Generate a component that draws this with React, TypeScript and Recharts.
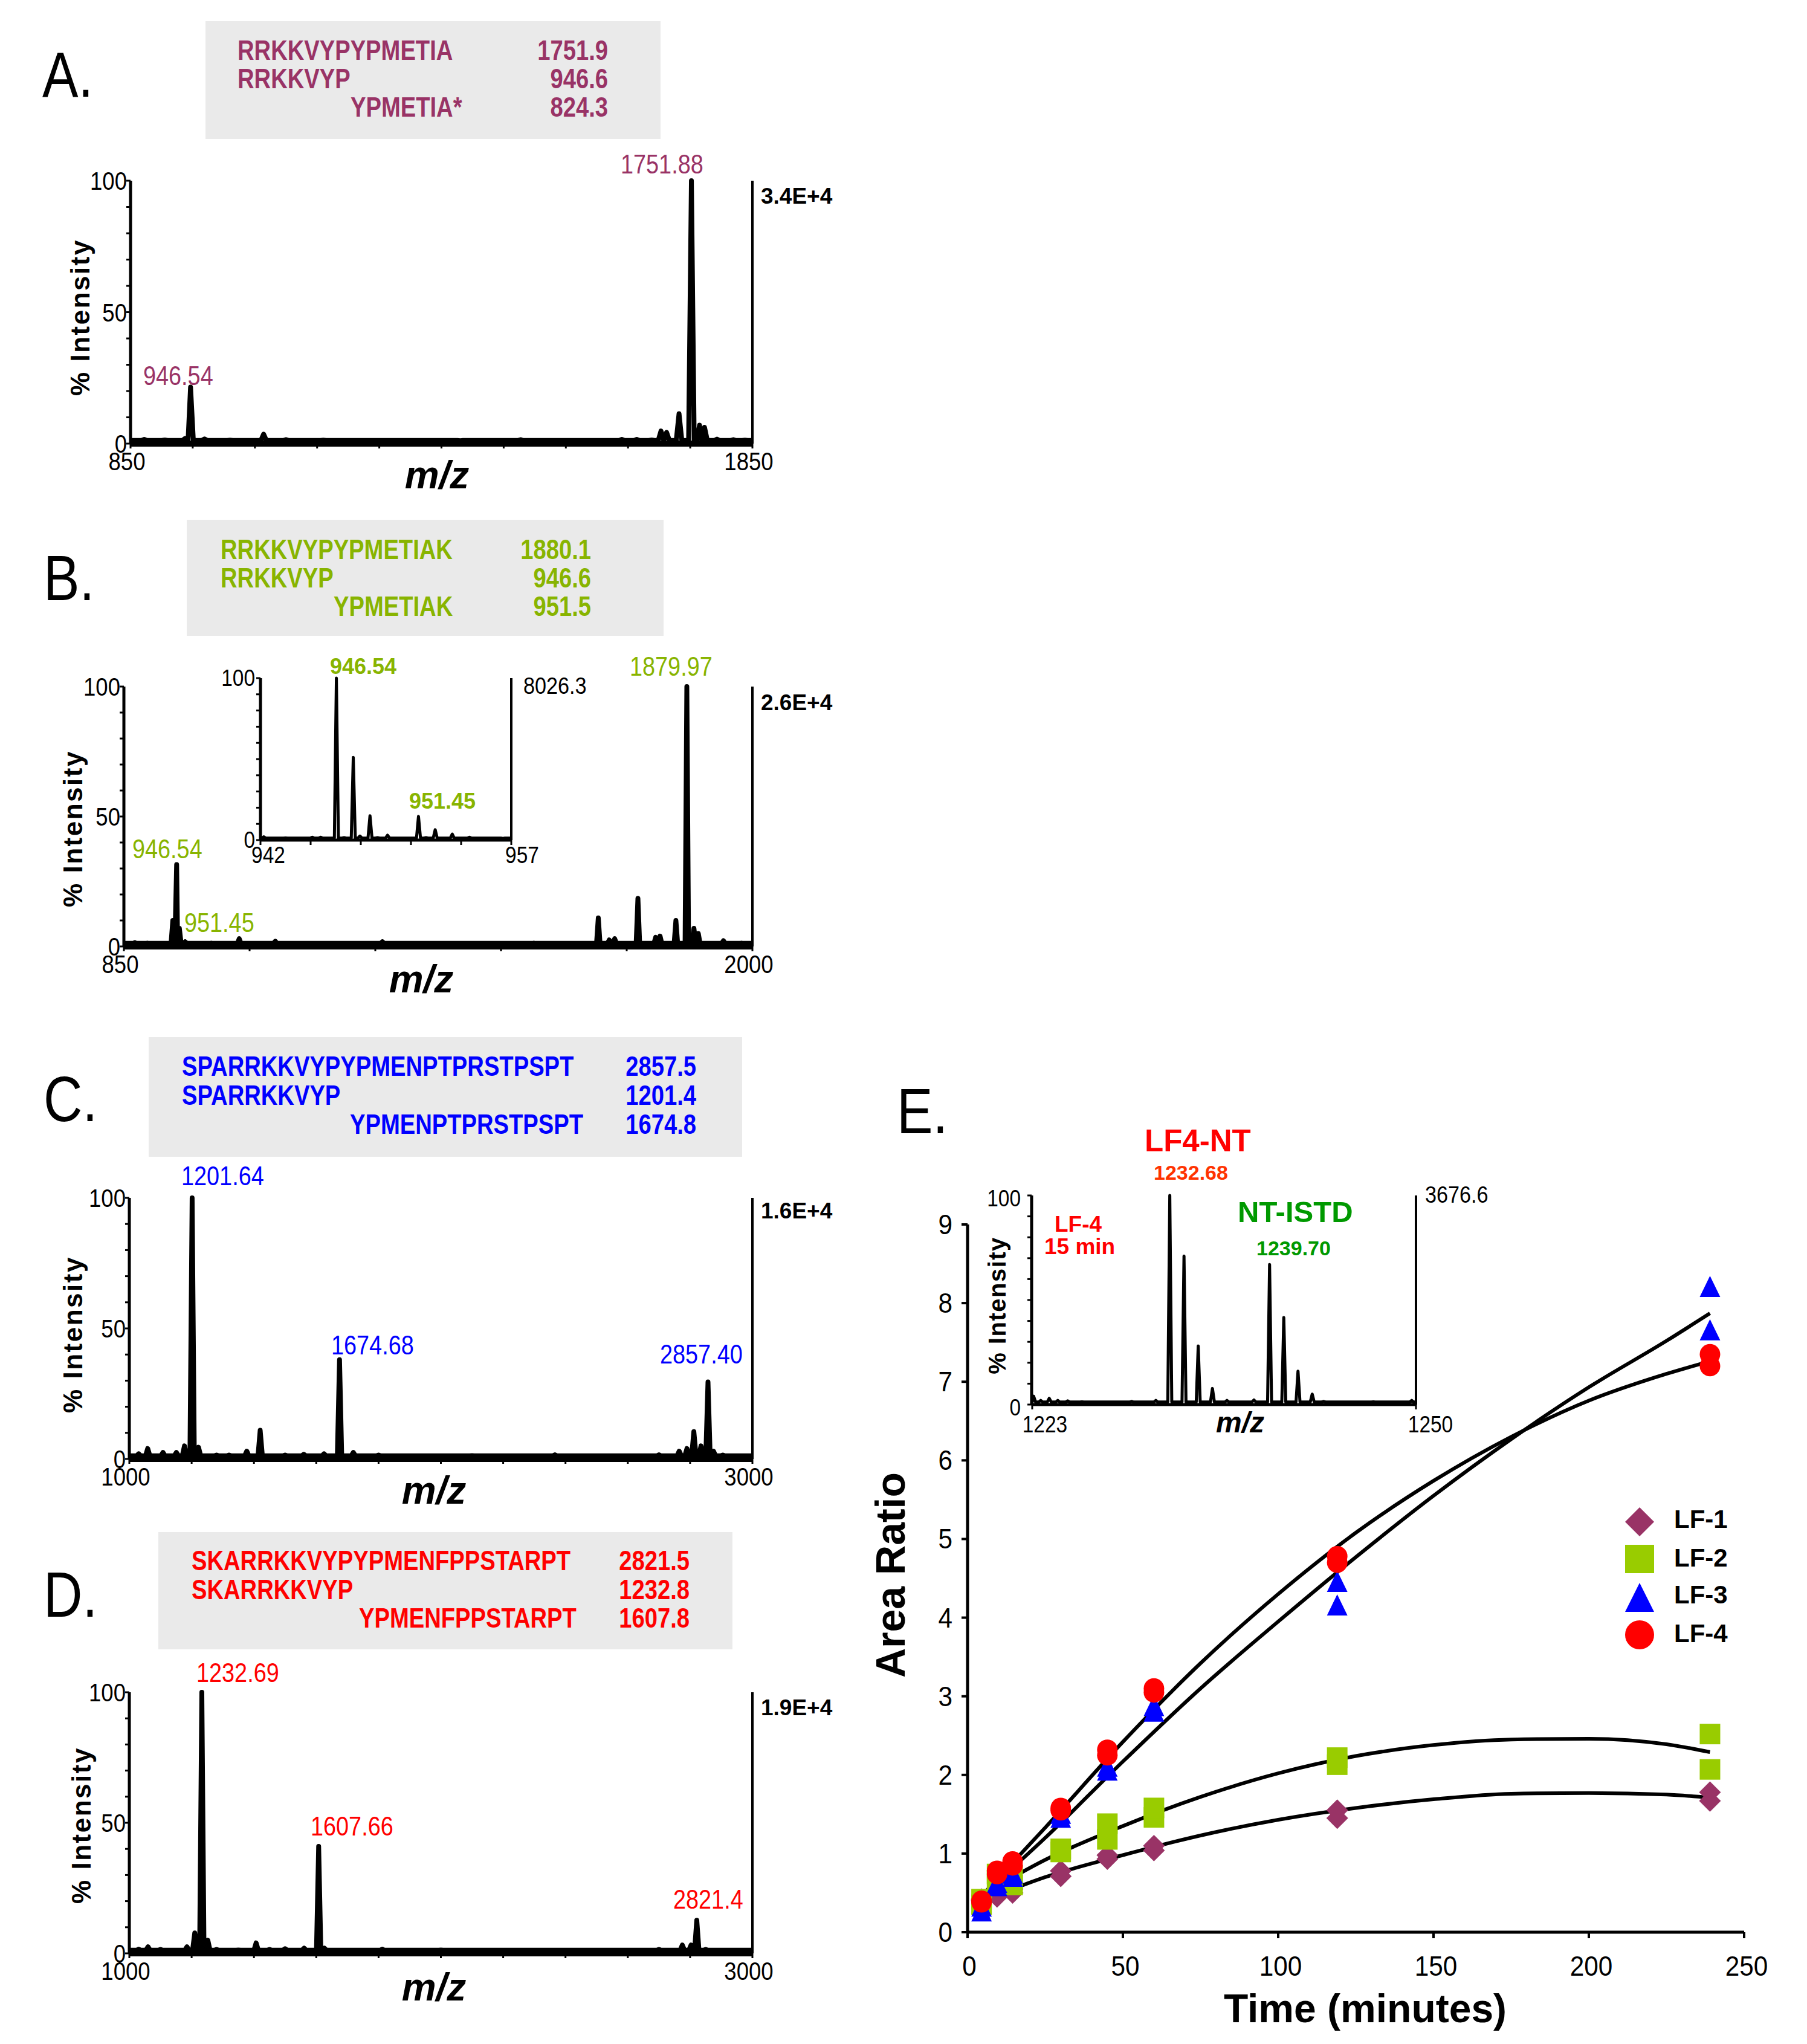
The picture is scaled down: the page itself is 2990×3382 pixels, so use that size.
import React from 'react';
import { LineChart, ComposedChart, Line, Scatter, XAxis, YAxis, ReferenceLine } from 'recharts';

const FONT = '"Liberation Sans", Arial, Helvetica, sans-serif';
const MAUVE = '#993366';
const OLIVE = '#88b400';
const LIME = '#99cc00';
const BLUE = '#0000ff';
const RED = '#ff0000';
const DKGREEN = '#009900';
const BOXGREY = '#eaeaea';

// ---- spectra: [m/z, % intensity] ----
const peaksA: [number, number][] = [
  [872, 1.6], [905, 1.4], [938, 2], [946.5, 21.5], [969, 1.8], [1010, 1.3], [1064, 3.6], [1100, 1.5],
  [1160, 1.3], [1260, 1.2], [1380, 1.1], [1477, 1.5], [1600, 1.2], [1640, 1.6], [1664, 1.6], [1688, 1.4],
  [1703, 4.8], [1712, 4.3], [1732, 11.4], [1751.9, 100], [1765, 7], [1773, 6.2], [1793, 1.7], [1819, 1.5], [1838, 1.3],
];
const peaksB: [number, number][] = [
  [870, 1.5], [893, 1.3], [939.5, 10], [946.5, 31.5], [951.5, 7], [962, 1.8], [1010, 1.3], [1061, 3],
  [1127, 2], [1200, 1.2], [1323, 1.8], [1450, 1.2], [1600, 1.3], [1718, 11], [1738, 2.5], [1748, 3],
  [1790.5, 18.5], [1823, 3.5], [1831, 4], [1860, 10], [1880, 100], [1893, 7], [1901, 5], [1947, 2.2], [1980, 1.3],
];
const peaksC: [number, number][] = [
  [1030, 2], [1059, 4], [1108, 2.5], [1151, 2.5], [1177, 5], [1201.6, 100], [1222, 4.5], [1280, 1.5],
  [1320, 1.5], [1377, 3], [1420, 11], [1500, 1.5], [1560, 1.8], [1625, 2], [1674.7, 38], [1719, 2.5],
  [1800, 1.5], [1900, 1.2], [2100, 1.3], [2366, 1.6], [2500, 1.2], [2700, 1.6], [2765, 3], [2790, 4],
  [2812, 10.5], [2835, 5], [2857.4, 29.5], [2875, 3], [2905, 1.5],
];
const peaksD: [number, number][] = [
  [1030, 1.6], [1060, 2.5], [1100, 1.5], [1185, 2.5], [1210, 7.8], [1232.7, 100], [1252, 5], [1280, 1.5],
  [1350, 1.3], [1407, 4], [1450, 1.5], [1500, 1.8], [1561, 2], [1607.7, 41], [1626, 2], [1812, 1.6],
  [2000, 1.3], [2400, 1.2], [2700, 1.5], [2775, 3.2], [2803, 3.2], [2821.4, 12.7], [2850, 1.5],
];
const peaksInsetB: [number, number][] = [
  [942.2, 2], [943.5, 1.3], [944.2, 1.2], [945.1, 1.8], [945.6, 1.8], [946.54, 100], [947.0, 1.5],
  [947.55, 51], [947.95, 2.5], [948.55, 15], [949.0, 1.5], [949.6, 3], [950.2, 1.2], [951.45, 14.6],
  [951.9, 1.5], [952.45, 6.4], [953.47, 3.7], [954.5, 1.8], [955.5, 1.2], [956.5, 1],
];
const peaksInsetE: [number, number][] = [
  [1223.1, 4], [1223.6, 2], [1224.2, 3], [1224.8, 2], [1225.5, 1.8], [1226.5, 1.3], [1228, 1.2],
  [1230, 1.5], [1231.7, 2], [1232.68, 100], [1233.68, 71], [1234.68, 28], [1235.68, 7.7], [1236.7, 2],
  [1238.6, 2.2], [1239.7, 67], [1240.7, 41.6], [1241.7, 16], [1242.7, 5], [1243.5, 1.5], [1245, 1.2],
  [1247, 1.3], [1249.7, 2],
];

// ---- axis ticks ----
const pctTicks = [0, 10, 20, 30, 40, 50, 60, 70, 80, 90, 100];
const pctLabels = [0, 50, 100];
const insetLabels = [0, 100];
const mzTicksA = [850, 950, 1050, 1150, 1250, 1350, 1450, 1550, 1650, 1750, 1850];
const mzTicksB = [850, 1080, 1310, 1540, 1770, 2000];
const mzTicksCD = [1000, 1200, 1400, 1600, 1800, 2000, 2200, 2400, 2600, 2800, 3000];
const mzTicksInsetB = [942, 945, 948, 951, 954, 957];
const mzTicksInsetE = [1223, 1250];
const timeTicks = [0, 50, 100, 150, 200, 250];
const ratioTicks = [0, 1, 2, 3, 4, 5, 6, 7, 8, 9];

// ---- panel E: time course (two replicates per time) ----
const times = [4.5, 9.5, 14.5, 30, 45, 60, 119, 239];
const lf1a = [0.4, 0.45, 0.5, 0.71, 0.93, 1.04, 1.45, 1.67];
const lf1b = [0.42, 0.5, 0.55, 0.78, 0.98, 1.1, 1.55, 1.78];
const lf2a = [0.42, 0.74, 0.6, 1.02, 1.18, 1.46, 2.13, 2.07];
const lf2b = [0.35, 0.66, 0.72, 1.06, 1.38, 1.58, 2.22, 2.52];
const lf3a = [0.26, 0.58, 0.7, 1.45, 2.05, 2.8, 4.15, 7.65];
const lf3b = [0.32, 0.62, 0.74, 1.5, 2.1, 2.87, 4.45, 8.2];
const lf4a = [0.38, 0.74, 0.85, 1.55, 2.25, 3.05, 4.7, 7.2];
const lf4b = [0.4, 0.78, 0.9, 1.58, 2.32, 3.1, 4.78, 7.35];

// trend lines as drawn
const fitTimes = [5, 25, 50, 75, 100, 125, 150, 175, 200, 225, 239];
const fit1 = [0.4, 0.7, 0.98, 1.23, 1.43, 1.58, 1.69, 1.76, 1.77, 1.75, 1.71];
const fit2 = [0.48, 0.92, 1.35, 1.72, 2.02, 2.24, 2.38, 2.45, 2.46, 2.39, 2.29];
const fit3 = [0.48, 1.2, 2.17, 3.1, 3.95, 4.77, 5.55, 6.27, 6.93, 7.52, 7.87];
const fit4 = [0.48, 1.33, 2.42, 3.42, 4.3, 5.08, 5.74, 6.3, 6.76, 7.1, 7.26];

type Pt = { x: number; y: number };

// stick spectrum: each peak becomes a narrow spike on the baseline
function trace(peaks: [number, number][], lo: number, hi: number, hw: number, base = 1.2): Pt[] {
  const pts: Pt[] = [{ x: lo, y: base }, { x: hi, y: base }];
  peaks.forEach(([m, h]) => {
    pts.push({ x: m - hw, y: base }, { x: m, y: h }, { x: m + hw, y: base });
  });
  return pts.sort((a, b) => a.x - b.x);
}

const pairs = (a: number[], b: number[]) => [
  ...times.map((t, i) => ({ t, v: a[i] })),
  ...times.map((t, i) => ({ t, v: b[i] })),
];
const curve = (f: number[]) => fitTimes.map((t, i) => ({ t, v: f[i] }));

const XTick = (props: any) => {
  const { x, y, payload, labels, dxs, dy, fs, sx = 1 } = props;
  const i = labels.indexOf(payload.value);
  if (i < 0) return <g />;
  return (
    <text
      transform={`translate(${x + dxs[i]} ${y + dy}) scale(${sx} 1)`}
      textAnchor="middle" fontSize={fs} fontFamily={FONT} fill="#000"
    >
      {payload.value}
    </text>
  );
};

const YTick = (props: any) => {
  const { x, y, payload, labels, dx, dy, fs, sx = 1 } = props;
  if (!labels.includes(payload.value)) return <g />;
  return (
    <text
      transform={`translate(${x + dx} ${y + dy}) scale(${sx} 1)`}
      textAnchor="end" fontSize={fs} fontFamily={FONT} fill="#000"
    >
      {payload.value}
    </text>
  );
};

type SpecProps = {
  x0: number; x1: number; top: number; bottom: number;
  domain: [number, number]; xTicks: number[]; xLabels: number[]; xLabDx: number[]; xLabDy: number;
  yLabels: number[]; yLabDx: number; yLabDy: number; data: Pt[]; lineW: number; axisW: number;
  font: number; sx: number;
};

function Spectrum(p: SpecProps) {
  const yW = 100, padT = 40, padR = 80, xH = 80;
  return (
    <div style={{ position: 'absolute', left: p.x0 - yW, top: p.top - padT }}>
      <LineChart
        width={p.x1 - p.x0 + yW + padR}
        height={p.bottom - p.top + padT + xH}
        data={p.data}
        margin={{ top: padT, right: padR, left: 0, bottom: 0 }}
      >
        <XAxis
          type="number" dataKey="x" domain={p.domain} ticks={p.xTicks} interval={0} height={xH}
          axisLine={{ stroke: '#000', strokeWidth: p.axisW }} tickLine={{ stroke: '#000', strokeWidth: 3 }} tickSize={8}
          tick={<XTick labels={p.xLabels} dxs={p.xLabDx} dy={p.xLabDy} fs={p.font} sx={p.sx} />}
        />
        <YAxis
          type="number" domain={[0, 100]} ticks={pctTicks} interval={0} width={yW}
          axisLine={{ stroke: '#000', strokeWidth: 5 }} tickLine={{ stroke: '#000', strokeWidth: 3 }} tickSize={7}
          tick={<YTick labels={p.yLabels} dx={p.yLabDx} dy={p.yLabDy} fs={p.font} sx={p.sx} />}
        />
        <ReferenceLine x={p.domain[1]} stroke="#000" strokeWidth={4} />
        <Line
          type="linear" dataKey="y" stroke="#000" strokeWidth={p.lineW} dot={false}
          strokeLinejoin="round" isAnimationActive={false}
        />
      </LineChart>
    </div>
  );
}

// condensed / plain SVG text
function T(props: any) {
  const { x, y, fs, sx = 1, bold = false, italic = false, fill = '#000', anchor = 'start', ls = 0, children } = props;
  return (
    <text
      transform={`translate(${x} ${y}) scale(${sx} 1)`}
      fontSize={fs} fontWeight={bold ? 700 : 400} fontStyle={italic ? 'italic' : 'normal'}
      fill={fill} textAnchor={anchor} letterSpacing={ls} fontFamily={FONT}
    >
      {children}
    </text>
  );
}

function VT(props: any) {
  const { cx, cy, fs, ls = 0, children } = props;
  return (
    <text
      transform={`translate(${cx} ${cy}) rotate(-90)`} y={fs * 0.36}
      fontSize={fs} fontWeight={700} textAnchor="middle" letterSpacing={ls} fontFamily={FONT} fill="#000"
    >
      {children}
    </text>
  );
}

function SeqBox(props: any) {
  const { rect, rows, right, color } = props;
  return (
    <g>
      <rect x={rect[0]} y={rect[1]} width={rect[2]} height={rect[3]} fill={BOXGREY} />
      {rows.map((r: any, i: number) => (
        <g key={i}>
          <T x={r[0]} y={r[1]} fs={46} sx={0.83} bold fill={color}>{r[2]}</T>
          <T x={right} y={r[1]} fs={46} sx={0.83} bold fill={color} anchor="end">{r[3]}</T>
        </g>
      ))}
    </g>
  );
}

const Diamond = (p: any) => {
  const { cx, cy } = p;
  const r = 18;
  return <polygon points={`${cx},${cy - r} ${cx + r},${cy} ${cx},${cy + r} ${cx - r},${cy}`} fill={MAUVE} />;
};
const Square = (p: any) => <rect x={p.cx - 17} y={p.cy - 17} width={34} height={34} fill={LIME} />;
const Triangle = (p: any) => {
  const { cx, cy } = p;
  return <polygon points={`${cx},${cy - 19} ${cx + 17},${cy + 16} ${cx - 17},${cy + 16}`} fill={BLUE} />;
};
const Dot = (p: any) => <circle cx={p.cx} cy={p.cy} r={17} fill={RED} />;

function TimeCourse() {
  const yW = 110, padT = 40, padR = 40, xH = 110;
  const x0 = 1601, x1 = 2886, top = 2026, bottom = 3197;
  return (
    <div style={{ position: 'absolute', left: x0 - yW, top: top - padT }}>
      <ComposedChart
        width={x1 - x0 + yW + padR}
        height={bottom - top + padT + xH}
        margin={{ top: padT, right: padR, left: 0, bottom: 0 }}
      >
        <XAxis
          type="number" dataKey="t" domain={[0, 250]} ticks={timeTicks} interval={0} height={xH}
          axisLine={{ stroke: '#000', strokeWidth: 5 }} tickLine={{ stroke: '#000', strokeWidth: 4 }} tickSize={10}
          tick={<XTick labels={timeTicks} dxs={[3, 4, 4, 4, 4, 4]} dy={60} fs={46} sx={0.92} />}
        />
        <YAxis
          type="number" dataKey="v" domain={[0, 9]} ticks={ratioTicks} interval={0} width={yW}
          axisLine={{ stroke: '#000', strokeWidth: 5 }} tickLine={{ stroke: '#000', strokeWidth: 4 }} tickSize={10}
          tick={<YTick labels={ratioTicks} dx={-13} dy={16} fs={46} sx={0.92} />}
        />
        <Scatter data={pairs(lf1a, lf1b)} dataKey="v" shape={Diamond} isAnimationActive={false} />
        <Scatter data={pairs(lf2a, lf2b)} dataKey="v" shape={Square} isAnimationActive={false} />
        <Scatter data={pairs(lf3a, lf3b)} dataKey="v" shape={Triangle} isAnimationActive={false} />
        <Scatter data={pairs(lf4a, lf4b)} dataKey="v" shape={Dot} isAnimationActive={false} />
        {[fit1, fit2, fit3, fit4].map((f, i) => (
          <Line
            key={i} data={curve(f)} dataKey="v" type="monotone" stroke="#000" strokeWidth={6}
            dot={false} isAnimationActive={false}
          />
        ))}
      </ComposedChart>
    </div>
  );
}

const legendItems = ['LF-1', 'LF-2', 'LF-3', 'LF-4'];

export default function App() {
  return (
    <div style={{ position: 'absolute', left: 0, top: 0, width: 2990, height: 3382, background: '#fff', overflow: 'hidden' }}>
      <Spectrum
        x0={216} x1={1245} top={299} bottom={734} domain={[850, 1850]} xTicks={mzTicksA}
        xLabels={[850, 1850]} xLabDx={[-6, -6]} xLabDy={34} yLabels={pctLabels} yLabDx={3} yLabDy={15}
        data={trace(peaksA, 850, 1850, 4.5)} lineW={8} axisW={10} font={42} sx={0.87}
      />
      <Spectrum
        x0={205} x1={1245} top={1136} bottom={1566} domain={[850, 2000]} xTicks={mzTicksB}
        xLabels={[850, 2000]} xLabDx={[-6, -6]} xLabDy={34} yLabels={pctLabels} yLabDx={3} yLabDy={15}
        data={trace(peaksB, 850, 2000, 3.2)} lineW={8} axisW={10} font={42} sx={0.87}
      />
      <Spectrum
        x0={431} x1={846} top={1122} bottom={1390} domain={[942, 957]} xTicks={mzTicksInsetB}
        xLabels={[942, 957]} xLabDx={[13, 18]} xLabDy={28} yLabels={insetLabels} yLabDx={0} yLabDy={13}
        data={trace(peaksInsetB, 942, 957, 0.12)} lineW={5} axisW={5} font={38} sx={0.88}
      />
      <Spectrum
        x0={214} x1={1245} top={1982} bottom={2414} domain={[1000, 3000]} xTicks={mzTicksCD}
        xLabels={[1000, 3000]} xLabDx={[-6, -6]} xLabDy={34} yLabels={pctLabels} yLabDx={3} yLabDy={15}
        data={trace(peaksC, 1000, 3000, 7)} lineW={8} axisW={10} font={42} sx={0.87}
      />
      <Spectrum
        x0={214} x1={1245} top={2800} bottom={3232} domain={[1000, 3000]} xTicks={mzTicksCD}
        xLabels={[1000, 3000]} xLabDx={[-6, -6]} xLabDy={34} yLabels={pctLabels} yLabDx={3} yLabDy={15}
        data={trace(peaksD, 1000, 3000, 7)} lineW={8} axisW={10} font={42} sx={0.87}
      />
      <TimeCourse />
      <Spectrum
        x0={1707} x1={2343} top={1978} bottom={2324} domain={[1223, 1250]} xTicks={mzTicksInsetE}
        xLabels={[1223, 1250]} xLabDx={[21, 24]} xLabDy={36} yLabels={insetLabels} yLabDx={-9} yLabDy={18}
        data={trace(peaksInsetE, 1223, 1250, 0.14)} lineW={5} axisW={5} font={38} sx={0.88}
      />

      <svg width={2990} height={3382} style={{ position: 'absolute', left: 0, top: 0, pointerEvents: 'none' }}>
        {/* A */}
        <T x={70} y={160} fs={105} sx={0.85}>A.</T>
        <SeqBox
          rect={[340, 35, 753, 195]} right={1006} color={MAUVE}
          rows={[[393, 99, 'RRKKVYPYPMETIA', '1751.9'], [393, 146, 'RRKKVYP', '946.6'], [580, 193, 'YPMETIA*', '824.3']]}
        />
        <T x={237} y={637} fs={44} sx={0.86} fill={MAUVE}>946.54</T>
        <T x={1027} y={287} fs={44} sx={0.86} fill={MAUVE}>1751.88</T>
        <T x={1259} y={337} fs={37} bold>3.4E+4</T>
        <VT cx={132} cy={525} fs={44} ls={2.5}>% Intensity</VT>
        <T x={723} y={808} fs={64} bold italic anchor="middle">m/z</T>

        {/* B */}
        <T x={72} y={993} fs={105} sx={0.85}>B.</T>
        <SeqBox
          rect={[309, 860, 789, 192]} right={978} color={OLIVE}
          rows={[[365, 925, 'RRKKVYPYPMETIAK', '1880.1'], [365, 972, 'RRKKVYP', '946.6'], [552, 1019, 'YPMETIAK', '951.5']]}
        />
        <T x={219} y={1420} fs={44} sx={0.86} fill={OLIVE}>946.54</T>
        <T x={305} y={1542} fs={44} sx={0.86} fill={OLIVE}>951.45</T>
        <T x={1042} y={1118} fs={44} sx={0.86} fill={OLIVE}>1879.97</T>
        <T x={546} y={1115} fs={36} bold fill={OLIVE}>946.54</T>
        <T x={677} y={1338} fs={36} bold fill={OLIVE}>951.45</T>
        <T x={866} y={1148} fs={38} sx={0.9}>8026.3</T>
        <T x={1259} y={1175} fs={37} bold>2.6E+4</T>
        <VT cx={120} cy={1371} fs={44} ls={2.5}>% Intensity</VT>
        <T x={697} y={1642} fs={64} bold italic anchor="middle">m/z</T>

        {/* C */}
        <T x={72} y={1855} fs={105} sx={0.85}>C.</T>
        <SeqBox
          rect={[246, 1716, 982, 198]} right={1152} color={BLUE}
          rows={[[301, 1780, 'SPARRKKVYPYPMENPTPRSTPSPT', '2857.5'], [301, 1828, 'SPARRKKVYP', '1201.4'], [579, 1876, 'YPMENPTPRSTPSPT', '1674.8']]}
        />
        <T x={300} y={1961} fs={44} sx={0.86} fill={BLUE}>1201.64</T>
        <T x={548} y={2241} fs={44} sx={0.86} fill={BLUE}>1674.68</T>
        <T x={1092} y={2256} fs={44} sx={0.86} fill={BLUE}>2857.40</T>
        <T x={1259} y={2016} fs={37} bold>1.6E+4</T>
        <VT cx={120} cy={2208} fs={44} ls={2.5}>% Intensity</VT>
        <T x={718} y={2488} fs={64} bold italic anchor="middle">m/z</T>

        {/* D */}
        <T x={72} y={2675} fs={105} sx={0.85}>D.</T>
        <SeqBox
          rect={[262, 2535, 950, 194]} right={1141} color={RED}
          rows={[[317, 2598, 'SKARRKKVYPYPMENFPPSTARPT', '2821.5'], [317, 2646, 'SKARRKKVYP', '1232.8'], [594, 2693, 'YPMENFPPSTARPT', '1607.8']]}
        />
        <T x={325} y={2783} fs={44} sx={0.86} fill={RED}>1232.69</T>
        <T x={514} y={3037} fs={44} sx={0.86} fill={RED}>1607.66</T>
        <T x={1114} y={3158} fs={44} sx={0.86} fill={RED}>2821.4</T>
        <T x={1259} y={2838} fs={37} bold>1.9E+4</T>
        <VT cx={134} cy={3020} fs={44} ls={2.5}>% Intensity</VT>
        <T x={718} y={3310} fs={64} bold italic anchor="middle">m/z</T>

        {/* E */}
        <T x={1484} y={1875} fs={105} sx={0.85}>E.</T>
        <T x={1894} y={1905} fs={51} bold fill={RED}>LF4-NT</T>
        <T x={1909} y={1952} fs={34} bold fill="#ff3300">1232.68</T>
        <T x={2048} y={2022} fs={49} bold fill={DKGREEN}>NT-ISTD</T>
        <T x={2079} y={2077} fs={34} bold fill={DKGREEN}>1239.70</T>
        <T x={1745} y={2038} fs={37} bold fill={RED}>LF-4</T>
        <T x={1728} y={2075} fs={37} bold fill={RED}>15 min</T>
        <T x={2358} y={1990} fs={38} sx={0.9}>3676.6</T>
        <VT cx={1650} cy={2160} fs={40} ls={1.5}>% Intensity</VT>
        <T x={2052} y={2370} fs={48} bold italic anchor="middle">m/z</T>
        <VT cx={1473} cy={2606} fs={68}>Area Ratio</VT>
        <T x={2259} y={3346} fs={66} bold anchor="middle">Time (minutes)</T>

        {/* legend */}
        <polygon points="2713,2494 2737,2518 2713,2542 2689,2518" fill={MAUVE} />
        <rect x={2689} y={2556} width={48} height={47} fill={LIME} />
        <polygon points="2713,2619 2737,2667 2689,2667" fill={BLUE} />
        <circle cx={2713} cy={2705} r={24} fill={RED} />
        {legendItems.map((s, i) => (
          <T key={s} x={2770} y={[2528, 2592, 2653, 2717][i]} fs={42} bold>{s}</T>
        ))}
      </svg>
    </div>
  );
}
